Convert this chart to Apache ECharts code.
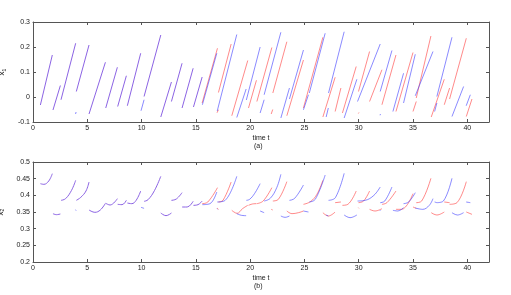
<!DOCTYPE html>
<html><head><meta charset="utf-8">
<script src="https://cdn.jsdelivr.net/npm/echarts@6/dist/echarts.min.js"></script>
<style>html,body{margin:0;padding:0;background:#fff}#c{width:511px;height:295px}</style>
</head><body><div id="c"></div>
<script>
// ---- data: top panel x1 segments [t0, y0, t1, y1] ----
var x1Shared = [
 [0.68,-0.032,1.78,0.168],[1.84,-0.052,2.52,0.046],[2.58,-0.011,3.93,0.215],
 [3.99,0.022,5.16,0.208],[5.16,-0.068,6.67,0.139],[6.70,-0.044,7.77,0.119],
 [7.80,-0.038,8.60,0.085],[8.69,-0.035,9.92,0.175],[10.23,0.002,11.77,0.248],
 [11.77,-0.080,12.75,0.060],[12.75,-0.018,13.73,0.135],[13.73,-0.044,14.75,0.115],
 [14.78,-0.040,15.58,0.080]
];
var x1BlueOnly = [
 [3.92,-0.068,3.97,-0.060],[9.95,-0.055,10.23,-0.011],
 [15.6,-0.031,16.93,0.175],[16.97,-0.056,18.77,0.250],[18.77,-0.082,19.63,0.032],
 [19.65,-0.012,20.92,0.200],[20.92,-0.064,21.29,-0.011],[21.29,0.009,22.83,0.259],
 [22.83,-0.084,23.62,0.036],[23.62,-0.008,24.91,0.188],[24.91,-0.051,25.37,0.009],
 [25.45,0.016,26.91,0.255],[27.0,-0.080,27.2,-0.044],[27.22,0.016,28.66,0.261],
 [28.66,-0.084,29.83,0.071],[29.89,-0.018,31.98,0.212],[31.97,-0.073,32.0,-0.068],
 [31.98,0.022,33.06,0.186],[33.15,-0.058,34.13,0.095],[34.13,-0.024,35.21,0.171],
 [35.21,0.005,36.84,0.182],[36.99,-0.058,37.2,-0.024],[37.2,0.002,38.59,0.239],
 [38.59,-0.078,39.66,0.042],[39.9,-0.035,40.28,0.009]
];
var x1RedOnly = [
 [15.58,-0.024,16.99,0.195],[16.95,-0.063,17.08,-0.051],[17.08,0.018,18.25,0.212],
 [18.31,-0.075,19.78,0.146],[19.85,-0.044,20.58,0.067],[20.62,-0.018,22.0,0.198],
 [21.94,-0.068,22.08,-0.050],[22.09,0.016,23.38,0.221],[23.38,-0.075,24.91,0.148],
 [24.91,-0.044,26.7,0.239],[26.7,-0.080,27.83,0.079],[27.83,-0.058,28.36,0.036],
 [28.5,-0.064,29.77,0.122],[29.97,-0.066,30.02,-0.062],[29.98,0.022,31.0,0.182],
 [31.0,-0.018,32.14,0.109],[32.14,-0.031,33.43,0.168],[33.43,-0.058,35.0,0.178],
 [35.0,-0.058,35.3,-0.018],[35.3,-0.004,36.65,0.244],[36.68,-0.080,37.88,0.071],
 [37.88,-0.031,38.37,0.036],[38.37,-0.008,39.91,0.235],[39.91,-0.078,40.43,-0.008]
];
// ---- data: bottom panel x2 curve pieces, lists of [t, x2] ----
var x2Shared = [
 [[0.68,0.435],[1.0,0.433],[1.45,0.443],[1.78,0.465]],
 [[1.84,0.345],[2.15,0.342],[2.52,0.344]],
 [[2.58,0.385],[3.0,0.39],[3.55,0.415],[3.93,0.445]],
 [[3.99,0.385],[4.4,0.394],[4.88,0.413],[5.16,0.44]],
 [[5.16,0.356],[5.7,0.349],[6.2,0.356],[6.67,0.376]],
 [[6.7,0.376],[7.1,0.371],[7.77,0.39]],
 [[7.8,0.373],[8.2,0.372],[8.6,0.385]],
 [[8.69,0.377],[9.1,0.375],[9.5,0.385],[9.92,0.413]],
 [[10.23,0.382],[10.6,0.387],[11.2,0.415],[11.77,0.457]],
 [[11.77,0.347],[12.25,0.339],[12.75,0.347]],
 [[12.75,0.385],[13.2,0.389],[13.73,0.408]],
 [[13.73,0.365],[14.2,0.365],[14.75,0.382]],
 [[14.78,0.37],[15.2,0.372],[15.58,0.383]]
];
var x2BlueOnly = [
 [[3.92,0.357],[3.97,0.354]],[[9.95,0.364],[10.23,0.361]],
 [[15.6,0.372],[16.3,0.375],[16.93,0.41]],[[16.95,0.36],[17.0,0.358]],
 [[16.97,0.38],[17.7,0.385],[18.77,0.457]],[[18.77,0.345],[19.2,0.34],[19.63,0.339]],
 [[19.65,0.385],[19.95,0.388],[20.4,0.405],[20.92,0.435]],[[20.92,0.353],[21.29,0.348]],
 [[21.29,0.383],[21.85,0.391],[22.45,0.423],[22.83,0.463]],[[22.83,0.338],[23.22,0.334],[23.62,0.338]],
 [[23.62,0.385],[24.1,0.391],[24.91,0.431]],[[24.91,0.353],[25.37,0.35]],
 [[25.45,0.38],[26.0,0.388],[26.91,0.461]],[[27.0,0.341],[27.2,0.338]],
 [[27.22,0.385],[27.85,0.393],[28.66,0.466]],[[28.66,0.341],[29.2,0.333],[29.83,0.341]],
 [[29.89,0.383],[30.6,0.385],[31.4,0.4],[31.98,0.425]],[[31.97,0.355],[32.0,0.353]],
 [[31.98,0.378],[32.4,0.383],[33.06,0.425]],[[33.15,0.355],[33.6,0.353],[34.13,0.363]],
 [[34.13,0.375],[34.6,0.38],[35.21,0.408]],[[35.21,0.362],[35.9,0.358],[36.5,0.37],[36.84,0.39]],
 [[36.99,0.38],[37.2,0.378]],[[37.2,0.378],[37.8,0.383],[38.59,0.451]],
 [[38.59,0.348],[39.1,0.341],[39.66,0.348]],[[39.9,0.38],[40.28,0.378]]
];
var x2RedOnly = [
 [[15.58,0.375],[16.1,0.38],[16.99,0.423]],[[16.95,0.362],[17.08,0.358]],
 [[17.08,0.38],[17.5,0.385],[18.25,0.44]],[[18.31,0.355],[18.8,0.346],[19.3,0.36],[19.78,0.37]],
 [[19.85,0.37],[20.2,0.374],[20.58,0.375]],[[20.62,0.375],[21.2,0.383],[22.0,0.423]],
 [[21.94,0.358],[22.08,0.356]],[[22.09,0.383],[22.6,0.388],[23.38,0.441]],
 [[23.38,0.353],[23.85,0.345],[24.45,0.348],[24.91,0.353]],
 [[24.91,0.373],[25.55,0.381],[26.15,0.403],[26.7,0.445]],
 [[26.7,0.348],[27.2,0.338],[27.83,0.35]],[[27.83,0.378],[28.36,0.38]],
 [[28.5,0.37],[29.0,0.373],[29.77,0.413]],[[29.97,0.363],[30.02,0.361]],
 [[29.98,0.378],[30.45,0.383],[31.0,0.413]],[[31.0,0.358],[31.5,0.353],[32.14,0.36]],
 [[32.14,0.373],[32.6,0.378],[33.43,0.413]],[[33.43,0.358],[33.95,0.358],[35.0,0.405]],
 [[35.0,0.365],[35.3,0.361]],[[35.3,0.378],[35.8,0.383],[36.65,0.451]],
 [[36.68,0.348],[37.2,0.341],[37.88,0.35]],[[37.88,0.38],[38.37,0.378]],
 [[38.37,0.373],[39.05,0.378],[39.91,0.441]],[[39.91,0.35],[40.43,0.343]]
];
var xTicks = {min:0, max:42, interval:5};
var y1Ticks = {min:-0.1, max:0.3, interval:0.1};
var y2Ticks = {min:0.2, max:0.5, interval:0.05};

function segData(list){var d=[];list.forEach(function(s){d.push([s[0],s[1]]);d.push([s[2],s[3]]);d.push(null);});return d;}
function curveData(list){var d=[];list.forEach(function(c){c.forEach(function(p){d.push(p);});d.push(null);});return d;}

var FONT='Liberation Sans', AX='#555', TX='#222';
function xa(grid,pos,lab,name){return {type:'value',gridIndex:grid,position:pos,min:xTicks.min,max:xTicks.max,interval:xTicks.interval,
 axisLine:{show:true,onZero:false,lineStyle:{color:AX,width:1}},axisTick:{show:true,inside:true,length:3,lineStyle:{color:AX}},
 splitLine:{show:false},axisLabel:{show:lab,showMaxLabel:false,fontSize:7,color:TX,fontFamily:FONT,margin:3},
 name:name||'',nameLocation:'middle',nameGap:13,nameTextStyle:{fontSize:7,color:TX,fontFamily:FONT}};}
function ya(grid,pos,lab,t,name,fmt){return {type:'value',gridIndex:grid,position:pos,min:t.min,max:t.max,interval:t.interval,
 axisLine:{show:true,onZero:false,lineStyle:{color:AX,width:1}},axisTick:{show:true,inside:true,length:3,lineStyle:{color:AX}},
 splitLine:{show:false},axisLabel:{show:lab,fontSize:7,color:TX,fontFamily:FONT,margin:3,formatter:fmt},
 name:name||'',nameLocation:'middle',nameRotate:90,nameGap:21,
 nameTextStyle:{fontSize:7,color:TX,fontFamily:FONT,rich:{x:{fontSize:8,fontFamily:FONT,color:TX},s:{fontSize:5,fontFamily:FONT,color:TX,padding:[5,0,0,0]}}}};}
function f1(v){return String(Math.round(v*10)/10);}
function f2(v){return String(Math.round(v*100)/100);}
var RED='rgba(255,60,60,0.6)', BLUE='rgba(60,60,255,0.6)', PURPLE='rgb(140,100,228)';
function ser(data,xi,yi,color,smooth){return {type:'line',data:data,xAxisIndex:xi,yAxisIndex:yi,showSymbol:false,symbol:'none',
 connectNulls:false,smooth:smooth,lineStyle:{color:color,width:1},itemStyle:{color:color},silent:true,animation:false};}

var chart=echarts.init(document.getElementById('c'),null,{renderer:'canvas'});
chart.setOption({
 animation:false,backgroundColor:'#fff',
 grid:[{left:33,top:22,width:456,height:100,containLabel:false,outerBoundsMode:'none'},
       {left:33,top:162,width:456,height:100,containLabel:false,outerBoundsMode:'none'}],
 xAxis:[xa(0,'bottom',true,'time t'),xa(1,'bottom',true,'time t'),xa(0,'top',false),xa(1,'top',false)],
 yAxis:[ya(0,'left',true,y1Ticks,'{x|x}{s|1}',f1),ya(1,'left',true,y2Ticks,'{x|x}{s|2}',f2),ya(0,'right',false,y1Ticks),ya(1,'right',false,y2Ticks)],
 graphic:[
  {type:'text',left:254,top:143,style:{text:'(a)',font:'7px "Liberation Sans"',fill:TX}},
  {type:'text',left:254,top:283,style:{text:'(b)',font:'7px "Liberation Sans"',fill:TX}}
 ],
 series:[
  ser(segData(x1RedOnly),0,0,RED,false),
  ser(segData(x1BlueOnly),0,0,BLUE,false),
  ser(segData(x1Shared),0,0,PURPLE,false),
  ser(curveData(x2RedOnly),1,1,RED,0.4),
  ser(curveData(x2BlueOnly),1,1,BLUE,0.4),
  ser(curveData(x2Shared),1,1,PURPLE,0.4)
 ]
});
</script></body></html>
